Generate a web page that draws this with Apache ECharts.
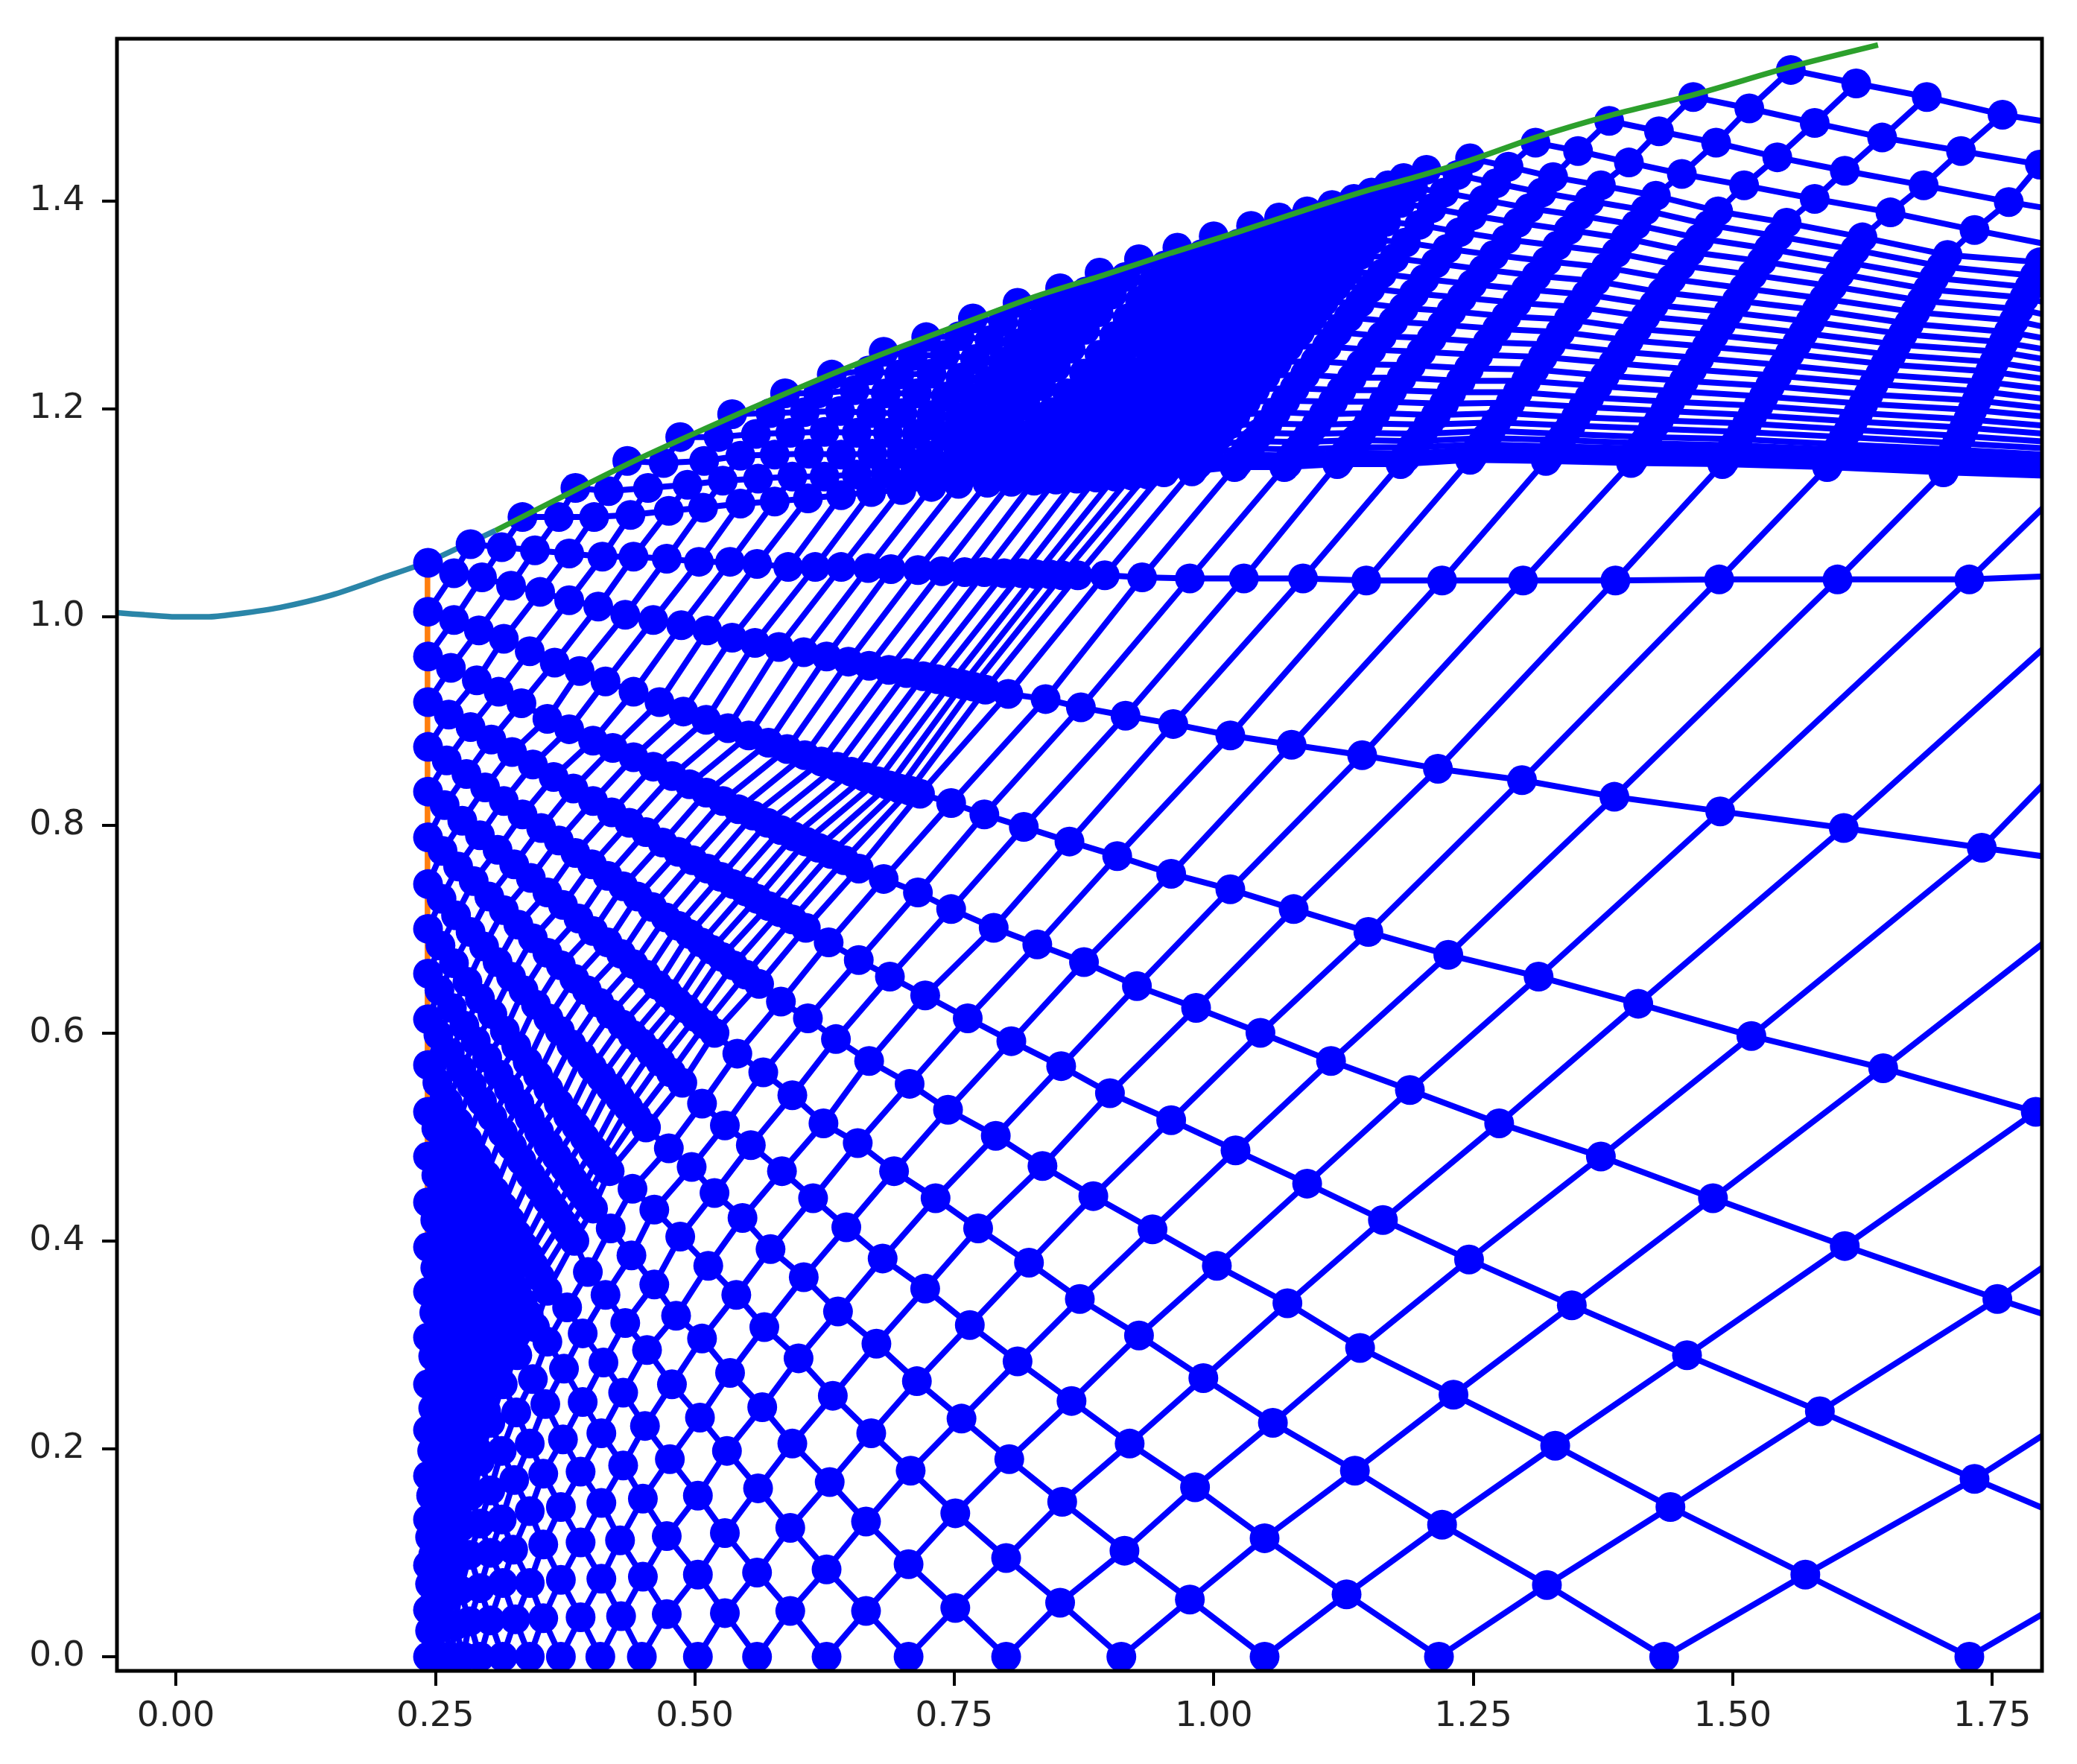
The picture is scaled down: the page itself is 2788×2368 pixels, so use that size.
<!DOCTYPE html>
<html>
<head>
<meta charset="utf-8">
<style>
html, body { margin: 0; padding: 0; background: #fff; }
#chart { width: 2788px; height: 2368px; }
</style>
<script src="https://cdn.jsdelivr.net/npm/echarts@6/dist/echarts.min.js"></script>
</head>
<body>
<div id="chart"></div>
<script>
// tick labels
var xTicks = [0, 0.25, 0.5, 0.75, 1, 1.25, 1.5, 1.75];
var yTicks = [0, 0.2, 0.4, 0.6, 0.8, 1, 1.2, 1.4];

var throatCurve = [-.0567,1.004,-.03,1.002,0,1,.03,1,.06,1.003,.1,1.009,.15,1.021,.2,1.038,.243,1.053,.28,1.07,.308,1.083];
var wallCurve = [.308,1.083,.375,1.117,.446,1.152,.51,1.181,.574,1.209,.638,1.236,.702,1.261,.766,1.285,.831,1.309,.895,1.329,.959,1.35,1.023,1.37,1.087,1.391,1.151,1.411,1.1945,1.423,1.247,1.439,1.31,1.461,1.381,1.482,1.462,1.502,1.556,1.529,1.64,1.55];
var inletLine = [.2425,0,.2425,1.05];

// falling characteristics below the wall, row a starts at the inlet, x,y pairs
var lowerRows = [
[.243,0],
[.243,.045,.245,.025,.247,0],
[.243,.088,.245,.07,.248,.05,.251,.03,.255,0],
[.243,.132,.245,.115,.248,.098,.251,.08,.254,.06,.258,.035,.265,0],
[.243,.174,.246,.155,.249,.135,.252,.118,.255,.1,.258,.08,.262,.058,.269,.03,.277,0],
[.243,.218,.247,.198,.251,.178,.254,.162,.257,.147,.26,.132,.263,.115,.267,.09,.274,.064,.283,.034,.293,0],
[.243,.262,.248,.239,.252,.221,.256,.205,.26,.19,.263,.175,.266,.16,.271,.143,.275,.125,.283,.098,.293,.066,.303,.035,.315,0],
[.243,.307,.248,.289,.253,.27,.258,.252,.262,.237,.266,.222,.27,.207,.274,.192,.279,.174,.284,.155,.293,.128,.303,.1,.315,.071,.327,.036,.341,0],
[.243,.351,.249,.331,.255,.312,.261,.292,.266,.276,.271,.26,.276,.244,.28,.23,.284,.217,.289,.201,.293,.188,.303,.16,.314,.132,.325,.103,.341,.071,.354,.037,.371,0],
[.243,.394,.25,.374,.256,.357,.262,.34,.268,.323,.274,.307,.279,.292,.284,.278,.289,.264,.294,.25,.299,.236,.303,.225,.314,.198,.326,.17,.341,.14,.354,.108,.371,.074,.39,.038,.409,0],
[.243,.437,.25,.42,.257,.403,.264,.386,.271,.369,.278,.352,.284,.337,.29,.323,.295,.311,.3,.298,.305,.286,.31,.274,.315,.262,.328,.235,.341,.205,.354,.176,.371,.144,.39,.11,.41,.075,.429,.039,.449,0],
[.243,.481,.251,.463,.259,.445,.267,.428,.275,.41,.282,.394,.289,.379,.296,.363,.302,.35,.308,.337,.314,.323,.319,.312,.324,.301,.329,.29,.344,.267,.356,.243,.373,.209,.39,.178,.41,.148,.428,.112,.45,.077,.473,.041,.503,0],
[.243,.524,.251,.508,.26,.49,.269,.472,.278,.454,.286,.438,.294,.421,.302,.405,.309,.391,.316,.377,.322,.365,.328,.353,.334,.341,.34,.329,.346,.317,.358,.303,.374,.277,.392,.245,.41,.215,.431,.184,.45,.152,.473,.116,.503,.079,.529,.042,.56,0],
[.243,.569,.252,.552,.262,.533,.272,.514,.281,.497,.29,.48,.299,.463,.307,.448,.315,.433,.322,.42,.329,.406,.335,.395,.34,.386,.345,.376,.351,.365,.358,.352,.377,.336,.392,.311,.412,.283,.431,.254,.452,.222,.476,.19,.503,.155,.529,.119,.56,.081,.592,.044,.627,0],
[.243,.613,.253,.598,.264,.581,.275,.565,.285,.55,.295,.534,.305,.519,.315,.504,.324,.491,.333,.477,.342,.463,.35,.451,.358,.439,.365,.429,.372,.418,.378,.409,.384,.4,.397,.37,.414,.348,.433,.321,.454,.295,.478,.262,.505,.23,.531,.198,.561,.162,.592,.124,.627,.084,.665,.044,.706,0],
[.243,.657,.254,.641,.266,.624,.278,.607,.289,.592,.3,.576,.311,.56,.321,.546,.331,.532,.341,.518,.35,.505,.359,.492,.367,.481,.375,.47,.383,.458,.39,.448,.396,.44,.402,.431,.419,.412,.439,.386,.461,.358,.482,.328,.507,.306,.534,.273,.565,.24,.594,.205,.63,.168,.665,.13,.706,.089,.751,.047,.8,0],
[.243,.7,.255,.684,.268,.667,.281,.649,.293,.633,.305,.618,.317,.602,.328,.587,.339,.572,.349,.559,.359,.546,.369,.532,.378,.52,.386,.51,.394,.499,.402,.488,.408,.48,.413,.474,.418,.467,.44,.45,.461,.43,.486,.404,.513,.376,.54,.348,.567,.317,.6,.287,.633,.251,.67,.215,.708,.179,.751,.138,.8,.095,.852,.052,.911,0],
[.243,.743,.256,.729,.27,.713,.284,.697,.297,.683,.31,.668,.323,.654,.335,.641,.347,.627,.359,.614,.37,.602,.381,.589,.391,.578,.401,.567,.41,.557,.419,.547,.428,.537,.436,.528,.444,.519,.453,.509,.475,.489,.497,.471,.519,.446,.546,.422,.573,.392,.605,.365,.638,.332,.675,.301,.714,.265,.757,.229,.803,.19,.854,.149,.914,.102,.977,.055,1.049,0],
[.243,.788,.257,.775,.272,.76,.287,.746,.302,.731,.316,.718,.33,.704,.344,.691,.358,.677,.371,.665,.384,.652,.396,.641,.408,.629,.419,.618,.43,.608,.44,.598,.449,.59,.458,.581,.467,.572,.477,.562,.488,.552,.507,.532,.529,.511,.554,.492,.584,.467,.614,.441,.646,.413,.681,.383,.722,.354,.765,.319,.811,.284,.863,.246,.919,.205,.982,.163,1.049,.114,1.128,.06,1.217,0],
[.243,.832,.259,.819,.276,.804,.293,.79,.31,.776,.326,.762,.342,.749,.358,.735,.373,.723,.388,.71,.402,.698,.416,.687,.429,.676,.441,.666,.453,.656,.464,.646,.474,.638,.483,.63,.492,.623,.501,.615,.51,.608,.519,.6,.541,.58,.566,.562,.594,.54,.624,.513,.657,.494,.692,.467,.732,.441,.773,.412,.822,.379,.871,.344,.928,.309,.99,.268,1.057,.225,1.136,.179,1.22,.127,1.321,.069,1.434,0],
[.243,.875,.261,.862,.28,.849,.298,.836,.316,.823,.334,.81,.352,.797,.369,.785,.385,.773,.401,.762,.416,.751,.431,.741,.445,.731,.459,.721,.472,.711,.484,.703,.495,.695,.506,.687,.516,.68,.526,.673,.537,.665,.549,.656,.562,.647,.583,.63,.609,.614,.636,.594,.668,.573,.707,.551,.744,.526,.79,.501,.835,.472,.884,.443,.941,.411,1.003,.376,1.071,.34,1.141,.297,1.231,.252,1.329,.203,1.44,.144,1.57,.079,1.728,0],
[.243,.918,.263,.906,.284,.894,.304,.882,.324,.87,.344,.858,.364,.846,.383,.835,.402,.823,.42,.812,.437,.802,.453,.793,.469,.783,.484,.774,.498,.766,.512,.758,.525,.75,.537,.743,.549,.736,.56,.729,.571,.722,.582,.716,.594,.709,.607,.701,.629,.687,.658,.67,.688,.654,.722,.636,.763,.614,.805,.592,.853,.568,.9,.542,.959,.516,1.021,.487,1.09,.455,1.163,.42,1.246,.382,1.345,.338,1.456,.29,1.584,.236,1.733,.171,1.9,.1],
[.243,.962,.265,.951,.29,.939,.311,.928,.333,.917,.358,.902,.379,.892,.402,.881,.421,.874,.441,.865,.46,.856,.478,.847,.495,.839,.511,.831,.527,.823,.542,.815,.556,.809,.57,.802,.583,.795,.595,.789,.607,.784,.619,.778,.631,.772,.644,.766,.658,.758,.682,.748,.715,.735,.747,.719,.788,.701,.83,.685,.875,.668,.926,.645,.983,.624,1.045,.6,1.113,.573,1.189,.545,1.275,.513,1.373,.481,1.481,.441,1.608,.395,1.755,.344,1.92,.29],
[.243,1.005,.268,.997,.292,.987,.316,.979,.341,.967,.365,.956,.389,.948,.414,.938,.441,.928,.466,.918,.489,.909,.511,.901,.532,.893,.552,.886,.571,.879,.589,.873,.606,.867,.622,.861,.637,.856,.651,.851,.664,.846,.676,.842,.687,.838,.697,.835,.707,.833,.717,.83,.747,.821,.779,.81,.817,.798,.861,.784,.907,.77,.959,.753,1.016,.738,1.077,.719,1.149,.697,1.226,.675,1.313,.654,1.409,.628,1.518,.597,1.645,.566,1.792,.524,1.95,.48],
[.243,1.052,.268,1.042,.295,1.038,.323,1.03,.351,1.024,.379,1.016,.407,1.01,.433,1.002,.46,.997,.487,.992,.512,.987,.536,.98,.558,.975,.581,.971,.605,.966,.627,.962,.648,.957,.668,.953,.687,.949,.704,.946,.72,.943,.734,.94,.747,.937,.758,.935,.768,.933,.78,.93,.802,.926,.838,.921,.872,.913,.915,.905,.961,.897,1.016,.886,1.075,.877,1.143,.867,1.216,.854,1.297,.843,1.386,.827,1.488,.813,1.607,.797,1.74,.778,1.89,.757,2,.74],
[.284,1.07,.314,1.067,.346,1.064,.379,1.061,.411,1.058,.441,1.058,.473,1.056,.504,1.053,.534,1.053,.56,1.051,.59,1.048,.616,1.048,.641,1.048,.667,1.047,.689,1.046,.715,1.045,.738,1.044,.76,1.043,.779,1.043,.798,1.042,.815,1.042,.829,1.041,.842,1.041,.854,1.04,.869,1.04,.895,1.04,.931,1.038,.977,1.037,1.029,1.037,1.086,1.037,1.147,1.035,1.22,1.035,1.298,1.035,1.387,1.035,1.487,1.036,1.601,1.036,1.728,1.036,1.88,1.042,2,1.045]
];

// rising characteristics above the first row, from the bottom up to the wall, x,y pairs
var upperLines = [
[.334,1.096],
[.369,1.096,.385,1.124],
[.403,1.096,.417,1.121,.435,1.15],
[.438,1.098,.455,1.124,.47,1.148,.486,1.173],
[.475,1.102,.493,1.127,.509,1.15,.523,1.173,.536,1.195],
[.508,1.105,.527,1.131,.544,1.155,.559,1.176,.573,1.196,.587,1.215],
[.544,1.109,.561,1.133,.577,1.156,.592,1.177,.606,1.197,.619,1.215,.632,1.233],
[.577,1.111,.594,1.135,.61,1.157,.625,1.178,.64,1.198,.654,1.218,.668,1.237,.682,1.255],
[.609,1.114,.625,1.135,.641,1.156,.656,1.177,.67,1.196,.684,1.215,.697,1.233,.71,1.251,.723,1.269],
[.641,1.117,.656,1.137,.671,1.157,.686,1.177,.7,1.196,.714,1.215,.728,1.234,.741,1.252,.755,1.27,.768,1.287],
[.67,1.12,.684,1.138,.699,1.157,.714,1.176,.728,1.194,.742,1.212,.756,1.23,.77,1.248,.784,1.266,.797,1.284,.811,1.302],
[.699,1.122,.712,1.138,.726,1.155,.741,1.174,.755,1.192,.769,1.21,.783,1.227,.797,1.245,.811,1.263,.825,1.281,.838,1.298,.852,1.316],
[.728,1.125,.74,1.139,.753,1.154,.767,1.171,.781,1.189,.795,1.207,.809,1.225,.823,1.243,.837,1.261,.851,1.279,.864,1.296,.877,1.313,.89,1.331],
[.754,1.128,.765,1.14,.777,1.153,.79,1.168,.804,1.185,.819,1.203,.834,1.222,.848,1.24,.862,1.258,.876,1.276,.889,1.293,.902,1.31,.915,1.327,.928,1.344],
[.782,1.129,.792,1.14,.803,1.152,.815,1.165,.829,1.18,.844,1.197,.859,1.215,.875,1.234,.89,1.252,.904,1.27,.917,1.287,.929,1.304,.941,1.321,.953,1.338,.965,1.355],
[.805,1.13,.814,1.137,.824,1.148,.835,1.16,.848,1.174,.862,1.19,.877,1.207,.893,1.226,.909,1.245,.925,1.264,.94,1.282,.954,1.299,.966,1.316,.977,1.332,.989,1.349,1,1.366],
[.827,1.131,.835,1.137,.844,1.147,.854,1.158,.866,1.171,.879,1.185,.893,1.201,.908,1.218,.923,1.236,.939,1.255,.955,1.274,.971,1.293,.985,1.31,.998,1.326,1.011,1.342,1.024,1.359,1.036,1.376],
[.848,1.132,.855,1.138,.863,1.147,.872,1.157,.883,1.169,.895,1.182,.908,1.197,.922,1.213,.937,1.23,.952,1.248,.968,1.266,.984,1.285,1,1.304,1.014,1.32,1.027,1.335,1.04,1.352,1.052,1.368,1.063,1.384],
[.868,1.133,.874,1.139,.881,1.147,.889,1.156,.898,1.167,.909,1.179,.921,1.193,.934,1.208,.948,1.224,.962,1.241,.977,1.258,.992,1.276,1.008,1.294,1.024,1.313,1.04,1.332,1.056,1.351,1.068,1.365,1.079,1.378,1.09,1.39],
[.887,1.134,.892,1.139,.898,1.146,.905,1.154,.913,1.164,.922,1.174,.933,1.187,.945,1.201,.958,1.216,.971,1.231,.985,1.247,.999,1.264,1.014,1.281,1.029,1.298,1.044,1.316,1.059,1.334,1.074,1.351,1.089,1.368,1.102,1.382,1.114,1.396],
[.905,1.135,.91,1.14,.915,1.146,.921,1.153,.928,1.162,.936,1.171,.946,1.182,.956,1.195,.968,1.208,.98,1.222,.993,1.237,1.006,1.253,1.02,1.269,1.034,1.285,1.048,1.302,1.062,1.319,1.077,1.336,1.091,1.353,1.106,1.37,1.12,1.386,1.135,1.402],
[.921,1.136,.925,1.14,.93,1.146,.935,1.153,.941,1.16,.949,1.169,.958,1.179,.968,1.191,.978,1.204,.99,1.218,1.002,1.232,1.014,1.247,1.027,1.262,1.04,1.278,1.053,1.294,1.067,1.31,1.081,1.327,1.095,1.344,1.109,1.36,1.124,1.377,1.138,1.393,1.152,1.408],
[.936,1.137,.94,1.142,.944,1.147,.949,1.153,.954,1.16,.961,1.168,.969,1.178,.978,1.189,.987,1.201,.998,1.214,1.009,1.227,1.021,1.241,1.033,1.256,1.045,1.271,1.058,1.287,1.071,1.303,1.084,1.319,1.097,1.335,1.11,1.351,1.124,1.368,1.139,1.386,1.154,1.4,1.168,1.415],
[.952,1.139,.955,1.143,.958,1.147,.962,1.151,.967,1.158,.973,1.165,.981,1.174,.989,1.184,.998,1.195,1.008,1.208,1.019,1.221,1.03,1.234,1.041,1.248,1.053,1.263,1.065,1.278,1.078,1.293,1.09,1.308,1.102,1.323,1.114,1.338,1.128,1.354,1.141,1.37,1.155,1.388,1.17,1.406,1.183,1.422],
[.979,1.14,.982,1.144,.985,1.147,.988,1.152,.993,1.158,.999,1.166,1.005,1.174,1.013,1.184,1.021,1.194,1.031,1.207,1.04,1.219,1.05,1.232,1.061,1.245,1.072,1.26,1.083,1.274,1.095,1.288,1.106,1.303,1.118,1.318,1.129,1.332,1.141,1.348,1.153,1.363,1.166,1.38,1.18,1.398,1.192,1.413,1.205,1.43],
[1.02,1.144,1.023,1.148,1.025,1.151,1.029,1.156,1.033,1.162,1.039,1.169,1.045,1.177,1.052,1.186,1.06,1.197,1.069,1.208,1.078,1.22,1.088,1.233,1.098,1.246,1.109,1.26,1.119,1.274,1.13,1.288,1.141,1.302,1.151,1.316,1.162,1.33,1.174,1.345,1.185,1.36,1.198,1.377,1.21,1.393,1.222,1.408,1.235,1.425,1.247,1.441],
[1.068,1.144,1.071,1.147,1.073,1.151,1.076,1.155,1.081,1.161,1.086,1.168,1.092,1.176,1.099,1.185,1.106,1.195,1.115,1.207,1.123,1.218,1.133,1.23,1.142,1.243,1.152,1.257,1.162,1.27,1.173,1.284,1.183,1.297,1.193,1.311,1.203,1.325,1.214,1.34,1.225,1.354,1.237,1.37,1.249,1.386,1.26,1.401,1.272,1.417,1.284,1.433,1.31,1.456],
[1.119,1.147,1.121,1.15,1.124,1.154,1.127,1.158,1.131,1.163,1.136,1.17,1.142,1.177,1.149,1.186,1.156,1.196,1.164,1.207,1.172,1.218,1.181,1.23,1.19,1.242,1.2,1.255,1.21,1.268,1.22,1.281,1.229,1.294,1.239,1.307,1.249,1.32,1.26,1.334,1.27,1.348,1.282,1.363,1.293,1.379,1.304,1.393,1.316,1.408,1.327,1.423,1.351,1.448,1.381,1.477],
[1.18,1.147,1.182,1.15,1.185,1.153,1.188,1.157,1.191,1.163,1.196,1.169,1.201,1.176,1.207,1.185,1.214,1.194,1.222,1.205,1.229,1.216,1.238,1.227,1.246,1.239,1.255,1.252,1.264,1.264,1.273,1.277,1.282,1.289,1.292,1.302,1.301,1.315,1.311,1.328,1.321,1.342,1.331,1.357,1.342,1.372,1.352,1.386,1.362,1.4,1.373,1.415,1.4,1.437,1.429,1.467,1.462,1.5],
[1.247,1.151,1.249,1.154,1.251,1.157,1.254,1.161,1.258,1.166,1.262,1.172,1.267,1.179,1.272,1.187,1.279,1.196,1.286,1.206,1.293,1.216,1.301,1.227,1.309,1.238,1.317,1.25,1.325,1.262,1.334,1.274,1.342,1.286,1.351,1.298,1.359,1.31,1.368,1.323,1.378,1.336,1.388,1.35,1.397,1.364,1.407,1.377,1.416,1.391,1.426,1.405,1.451,1.426,1.484,1.456,1.516,1.489,1.556,1.526],
[1.32,1.15,1.322,1.153,1.324,1.156,1.326,1.159,1.33,1.164,1.334,1.17,1.338,1.176,1.344,1.184,1.349,1.192,1.356,1.202,1.362,1.211,1.37,1.222,1.377,1.232,1.385,1.244,1.393,1.255,1.4,1.266,1.408,1.277,1.416,1.289,1.424,1.3,1.432,1.312,1.441,1.325,1.45,1.338,1.459,1.351,1.468,1.364,1.477,1.377,1.486,1.39,1.511,1.415,1.543,1.442,1.579,1.475,1.619,1.513],
[1.402,1.148,1.404,1.151,1.406,1.154,1.408,1.157,1.411,1.162,1.414,1.167,1.418,1.173,1.423,1.181,1.429,1.189,1.435,1.198,1.44,1.207,1.447,1.217,1.453,1.227,1.461,1.238,1.468,1.249,1.475,1.26,1.482,1.271,1.489,1.282,1.496,1.293,1.504,1.304,1.511,1.316,1.519,1.329,1.528,1.342,1.535,1.354,1.544,1.366,1.552,1.379,1.579,1.402,1.608,1.429,1.644,1.461,1.687,1.5],
[1.49,1.147,1.492,1.15,1.493,1.152,1.495,1.156,1.498,1.16,1.501,1.165,1.505,1.171,1.509,1.178,1.514,1.186,1.519,1.194,1.525,1.203,1.53,1.212,1.536,1.222,1.543,1.232,1.549,1.242,1.555,1.253,1.562,1.263,1.568,1.273,1.575,1.284,1.581,1.295,1.588,1.306,1.596,1.318,1.603,1.33,1.61,1.341,1.618,1.353,1.625,1.365,1.652,1.389,1.684,1.415,1.72,1.448,1.76,1.483],
[1.591,1.144,1.592,1.146,1.594,1.149,1.596,1.152,1.598,1.156,1.601,1.161,1.604,1.166,1.607,1.173,1.612,1.18,1.616,1.188,1.621,1.196,1.626,1.205,1.631,1.214,1.636,1.224,1.642,1.233,1.647,1.243,1.653,1.252,1.658,1.262,1.664,1.272,1.67,1.282,1.676,1.293,1.682,1.304,1.688,1.315,1.694,1.326,1.701,1.337,1.707,1.348,1.733,1.372,1.766,1.399,1.796,1.435,1.84,1.47],
[1.703,1.139,1.704,1.141,1.705,1.144,1.707,1.147,1.708,1.151,1.711,1.156,1.713,1.161,1.716,1.167,1.72,1.174,1.723,1.182,1.727,1.19,1.731,1.199,1.735,1.208,1.739,1.217,1.744,1.226,1.748,1.236,1.752,1.245,1.757,1.255,1.761,1.264,1.766,1.274,1.771,1.285,1.776,1.296,1.781,1.307,1.786,1.317,1.791,1.328,1.796,1.341,1.82,1.355,1.85,1.385,1.88,1.42],
[1.83,1.135,1.831,1.137,1.832,1.139,1.833,1.142,1.834,1.145,1.836,1.15,1.838,1.154,1.84,1.16,1.842,1.166,1.844,1.173,1.847,1.18,1.851,1.188,1.854,1.195,1.857,1.203,1.861,1.212,1.864,1.22,1.867,1.228,1.871,1.236,1.874,1.245,1.877,1.254,1.881,1.262,1.886,1.272,1.889,1.282,1.892,1.291,1.896,1.3,1.9,1.31]
];

function toPairs(flat) {
    var out = [];
    for (var i = 0; i < flat.length; i += 2) {
        out.push([flat[i], flat[i + 1]]);
    }
    return out;
}

var lower = lowerRows.map(toPairs);
var upper = upperLines.map(toPairs);
var TOP_ROW = lower.length - 1;

// first rising line that a lower row crosses
function firstLine(a) {
    return a === TOP_ROW ? -23 : -a;
}

function blueSeries(points, withMarkers) {
    return {
        type: 'line',
        data: points,
        z: 3,
        clip: false,
        silent: true,
        animation: false,
        showSymbol: withMarkers,
        showAllSymbol: withMarkers,
        symbol: withMarkers ? 'circle' : 'none',
        symbolSize: 40,
        itemStyle: { color: '#0000ff' },
        lineStyle: { color: '#0000ff', width: 8 }
    };
}

function curveSeries(flat, color, z) {
    return {
        type: 'line',
        data: toPairs(flat),
        z: z,
        clip: false,
        silent: true,
        animation: false,
        smooth: 0.3,
        symbol: 'none',
        lineStyle: { color: color, width: 7.5 }
    };
}

var series = [];
series.push(curveSeries(inletLine, '#ff7f0e', 1));
series.push(curveSeries(throatCurve, '#2a85a8', 2));

// rising lines: join the same line number through the lower rows, then carry on above
for (var c = -23; c <= 20; c++) {
    var pts = [];
    for (var a = Math.abs(c); a <= TOP_ROW; a++) {
        var node = lower[a][c - firstLine(a)];
        if (node) pts.push(node);
    }
    var above = upper[c + 22];
    if (above) pts = pts.concat(above);
    if (pts.length > 1) series.push(blueSeries(pts, false));
}

// falling rows with their markers
lower.forEach(function (row) {
    series.push(blueSeries(row, true));
});
for (var i = 0; i < 30; i++) {
    var rowPts = [];
    upper.forEach(function (line) {
        if (line[i]) rowPts.push(line[i]);
    });
    series.push(blueSeries(rowPts, true));
}

series.push(curveSeries(wallCurve, '#2ca02c', 5));

var GRID = { left: 157, top: 52, right: 47, bottom: 125 };
var plotW = 2788 - GRID.left - GRID.right;
var plotH = 2368 - GRID.top - GRID.bottom;

var chart = echarts.init(document.getElementById('chart'));
chart.setOption({
    backgroundColor: '#ffffff',
    animation: false,
    grid: { left: GRID.left, top: GRID.top, right: GRID.right, bottom: GRID.bottom },
    xAxis: {
        type: 'value',
        min: -0.0567,
        max: 1.798,
        z: 20,
        splitLine: { show: false },
        axisLine: { show: false, onZero: false },
        axisTick: { length: 20, lineStyle: { color: '#000', width: 4 }, customValues: xTicks },
        axisLabel: {
            color: '#222',
            fontFamily: 'DejaVu Sans',
            fontSize: 47,
            margin: 38,
            customValues: xTicks,
            formatter: function (v) { return v.toFixed(2); }
        }
    },
    yAxis: {
        type: 'value',
        min: -0.0136,
        max: 1.556,
        z: 20,
        splitLine: { show: false },
        axisLine: { show: false, onZero: false },
        axisTick: { length: 20, lineStyle: { color: '#000', width: 4 }, customValues: yTicks },
        axisLabel: {
            color: '#222',
            fontFamily: 'DejaVu Sans',
            fontSize: 47,
            margin: 43,
            padding: [9, 0, 0, 0],
            customValues: yTicks,
            formatter: function (v) { return v.toFixed(1); }
        }
    },
    // white masks cut the markers at the frame, like the axes clip does in the reference
    graphic: {
        elements: [
            { type: 'rect', z: 10, silent: true, shape: { x: 0, y: 0, width: 2788, height: GRID.top }, style: { fill: '#fff' } },
            { type: 'rect', z: 10, silent: true, shape: { x: 0, y: 2368 - GRID.bottom, width: 2788, height: GRID.bottom }, style: { fill: '#fff' } },
            { type: 'rect', z: 10, silent: true, shape: { x: 0, y: 0, width: GRID.left, height: 2368 }, style: { fill: '#fff' } },
            { type: 'rect', z: 10, silent: true, shape: { x: 2788 - GRID.right, y: 0, width: GRID.right, height: 2368 }, style: { fill: '#fff' } },
            { type: 'rect', z: 11, silent: true, shape: { x: GRID.left, y: GRID.top, width: plotW, height: plotH }, style: { fill: 'none', stroke: '#000', lineWidth: 5 } }
        ]
    },
    series: series
});
window.addEventListener('resize', function () {
    chart.resize();
});
</script>
</body>
</html>
